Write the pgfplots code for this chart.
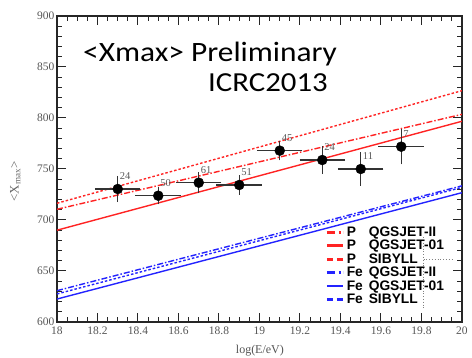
\documentclass[border=0pt]{standalone}
\usepackage{fontspec}
\setmainfont{Liberation Serif}
\newfontfamily\calibri[FakeStretch=1.12]{Carlito}
\newfontfamily\arial{Liberation Sans}
\usepackage{pgfplots}
\pgfplotsset{compat=1.18}
\usepackage{pgfplotstable}
\definecolor{pred}{RGB}{255,35,35}
\definecolor{fblue}{RGB}{35,35,255}
\definecolor{tickgray}{RGB}{85,85,85}

\pgfplotstableread{
x y ex ey lab
18.30 730.4 0.1 10.5 24
18.50 723.8 0.1 6 50
18.70 736.6 0.1 8 61
18.90 734.3 0.1 7 51
19.10 768.0 0.1 7 45
19.31 758.8 0.1 11.5 24
19.50 750.0 0.1 14 11
19.70 771.9 0.1 15 7
}\datatable

\pgfplotstableread{
x pqii pqo psib feqii feqo fesib
18 710.5 690.0 716.4 630.7 622.5 627.5
20 803.6 796.8 826.8 733.5 726.8 732.0
}\linetable

\begin{document}
\begin{tikzpicture}[x=1pt,y=1pt]
\useasboundingbox (-57pt,-36pt) rectangle (415pt,322pt);
\begin{axis}[
  at={(0,0)}, anchor=south west,
  scale only axis, width=405pt, height=306pt,
  xmin=18, xmax=20, ymin=600, ymax=900,
  xtick={18,18.2,...,20.01}, ytick={600,650,...,900},
  minor x tick num=3, minor y tick num=4,
  tick align=inside, tick pos=both,
  major tick length=9pt, minor tick length=5pt,
  axis line style={black!85, line width=1.2pt},
  every tick/.style={black!85, line width=1pt},
  tick label style={font=\fontsize{11.5}{12}\selectfont, text=tickgray},
  /pgf/number format/assume math mode=true,
  xticklabel style={yshift=-1pt},
  yticklabel style={xshift=1pt},
  xticklabels={18,18.2,18.4,18.6,18.8,19,19.2,19.4,19.6,19.8,20},
  yticklabels={600,650,700,750,800,850,900},
  xlabel={log(E/eV)},
  xlabel style={at={(axis description cs:0.501,-0.095)}, anchor=center, font=\fontsize{12}{13}\selectfont, text=tickgray},
  ylabel={<X\textsubscript{max}>},
  ylabel style={at={(axis description cs:-0.103,0.46)}, anchor=center, font=\fontsize{13}{14}\selectfont, text=black!60},
  legend cell align=left,
  legend image code/.code={\draw[#1] (0pt,0pt) -- (16pt,0pt);},
  legend style={draw=none, fill=none, at={(axis description cs:0.655,0.322)}, anchor=north west,
    font=\arial\bfseries\fontsize{13.8}{14}\selectfont,
    nodes={text height=9.8pt, text depth=1.6pt, inner sep=1pt},
    column sep=1.5pt},
]
\addplot[pred, line width=1.4pt, dash pattern=on 6pt off 2pt on 1.5pt off 2pt,
  legend image post style={line width=2.8pt, dash pattern=on 8pt off 4pt on 2pt off 2pt}] table[x=x,y=pqii]{\linetable};
\addlegendentry{\makebox[22pt][l]{P}QGSJET-II}
\addplot[pred, line width=1.4pt,
  legend image post style={line width=2.8pt}] table[x=x,y=pqo]{\linetable};
\addlegendentry{\makebox[22pt][l]{P}QGSJET-01}
\addplot[pred, line width=1.4pt, dash pattern=on 2.5pt off 2pt,
  legend image post style={line width=2.8pt, dash pattern=on 6pt off 4pt}] table[x=x,y=psib]{\linetable};
\addlegendentry{\makebox[22pt][l]{P}SIBYLL}
\addplot[fblue, line width=1.4pt, dash pattern=on 6pt off 2pt on 1.5pt off 2pt,
  legend image post style={line width=2.8pt, dash pattern=on 8pt off 4pt on 2pt off 2pt}] table[x=x,y=feqii]{\linetable};
\addlegendentry{\makebox[22pt][l]{Fe}QGSJET-II}
\addplot[fblue, line width=1.4pt,
  legend image post style={line width=2.8pt}] table[x=x,y=feqo]{\linetable};
\addlegendentry{\makebox[22pt][l]{Fe}QGSJET-01}
\addplot[fblue, line width=1.4pt, dash pattern=on 2.5pt off 2pt,
  legend image post style={line width=2.8pt, dash pattern=on 6pt off 4pt}] table[x=x,y=fesib]{\linetable};
\addlegendentry{\makebox[22pt][l]{Fe}SIBYLL}
\addplot[black, only marks, mark=*, mark size=5pt, forget plot,
  error bars/.cd, x dir=both, x explicit, y dir=both, y explicit,
  error bar style={black!80, line width=1.3pt},
  error mark options={black!80, mark size=2.5pt, line width=1.1pt}]
  table[x=x, y=y, x error=ex, y error=ey]{\datatable};
\addplot[only marks, mark=none, forget plot,
  point meta=explicit symbolic,
  nodes near coords,
  every node near coord/.style={anchor=south west, inner sep=0pt, xshift=2pt, yshift=9pt,
    font=\fontsize{10.5}{11}\selectfont, text=black!65}]
  table[x=x, y=y, meta=lab]{\datatable};
\draw[black!50, dotted, line width=0.8pt] (axis cs:19.81,683) -- (axis cs:19.81,614);
\draw[black!50, dotted, line width=0.8pt] (axis cs:19.81,661) -- (axis cs:19.95,661);
\end{axis}
\node[anchor=base west, inner sep=0pt, font=\calibri\fontsize{28}{29}\selectfont] at (26pt,260pt) {<Xmax> Preliminary};
\node[anchor=base west, inner sep=0pt, font=\calibri\fontsize{27.5}{29}\selectfont] at (151pt,230pt) {ICRC2013};
\end{tikzpicture}
\end{document}
